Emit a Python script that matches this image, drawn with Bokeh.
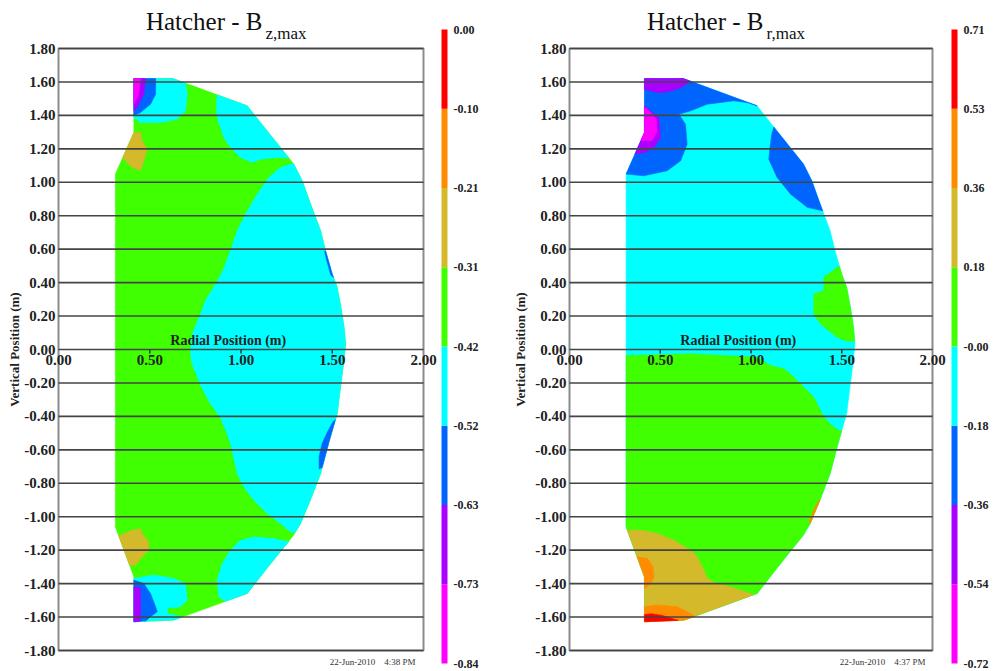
import math
from bokeh.plotting import figure
from bokeh.models import Range1d
from bokeh.core.properties import value
from bokeh.embed import file_html
from bokeh.resources import INLINE

# ---------------- data ----------------
Y_TICKS = [-1.8, -1.6, -1.4, -1.2, -1.0, -0.8, -0.6, -0.4, -0.2, 0.0,
           0.2, 0.4, 0.6, 0.8, 1.0, 1.2, 1.4, 1.6, 1.8]
X_TICKS = [0.0, 0.5, 1.0, 1.5, 2.0]

BAND_COLORS = ["#ff00ff", "#aa00ff", "#0064ff", "#00ffff",
               "#40ff00", "#d4b92a", "#ff8c00", "#ff0000"]
MAGENTA, PURPLE, BLUE, CYAN, GREEN, GOLD, ORANGE, RED = BAND_COLORS

BZ_LEVELS = [-0.84, -0.735, -0.63, -0.525, -0.42, -0.315, -0.21, -0.105, 0.0]
BZ_LABELS = ["-0.84", "-0.73", "-0.63", "-0.52", "-0.42", "-0.31", "-0.21", "-0.10", "0.00"]
BR_LEVELS = [-0.72, -0.54125, -0.3625, -0.18375, -0.005, 0.17375, 0.3525, 0.53125, 0.71]
BR_LABELS = ["-0.72", "-0.54", "-0.36", "-0.18", "-0.00", "0.18", "0.36", "0.53", "0.71"]

# vessel outline (radial r, vertical z)
WALL = [(0.413, 1.620), (0.627, 1.620), (1.034, 1.457), (1.060, 1.420), (1.143, 1.307),
        (1.216, 1.208), (1.289, 1.109), (1.335, 1.009), (1.381, 0.870), (1.436, 0.710),
        (1.463, 0.591), (1.500, 0.450), (1.527, 0.372), (1.548, 0.250), (1.565, 0.130),
        (1.573, 0.034), (1.560, -0.100), (1.545, -0.225), (1.527, -0.384), (1.480, -0.560),
        (1.436, -0.742), (1.380, -0.900), (1.326, -1.041), (1.289, -1.109), (1.216, -1.208),
        (1.143, -1.307), (1.034, -1.459), (0.632, -1.618), (0.413, -1.628), (0.413, -1.359),
        (0.312, -1.061), (0.312, 1.049), (0.413, 1.297)]

# ---- Bz,max contour bands ----
BZ_CYAN_MAIN = [(1.289, 1.109), (1.335, 1.009), (1.381, 0.870), (1.436, 0.710), (1.463, 0.591),
                (1.500, 0.450), (1.527, 0.372), (1.548, 0.250), (1.565, 0.130), (1.573, 0.034),
                (1.560, -0.100), (1.545, -0.225), (1.527, -0.384), (1.480, -0.560), (1.436, -0.742),
                (1.380, -0.900), (1.326, -1.041), (1.296, -1.095), (1.271, -1.091), (1.216, -1.041),
                (1.143, -0.981), (1.070, -0.901), (1.020, -0.830), (0.979, -0.742), (0.960, -0.650),
                (0.942, -0.563), (0.915, -0.480), (0.885, -0.404), (0.830, -0.320), (0.790, -0.240),
                (0.760, -0.165), (0.730, -0.080), (0.723, -0.006), (0.733, 0.094), (0.778, 0.213),
                (0.805, 0.293), (0.851, 0.372), (0.900, 0.470), (0.942, 0.591), (0.979, 0.710),
                (1.025, 0.810), (1.089, 0.929), (1.152, 1.029), (1.216, 1.088), (1.271, 1.109)]
BZ_CYAN_TOP = [(0.870, 1.522), (1.034, 1.457), (1.060, 1.420), (1.143, 1.307), (1.216, 1.208),
               (1.262, 1.145), (1.198, 1.148), (1.107, 1.138), (1.061, 1.118), (0.997, 1.148),
               (0.942, 1.208), (0.906, 1.267), (0.890, 1.320), (0.869, 1.387), (0.865, 1.460)]
BZ_CYAN_TOPLEFT = [(0.413, 1.620), (0.627, 1.620), (0.696, 1.592), (0.705, 1.527), (0.696, 1.427),
                   (0.650, 1.377), (0.559, 1.357), (0.449, 1.357), (0.413, 1.387)]
BZ_BLUE_TOPLEFT = [(0.413, 1.620), (0.532, 1.620), (0.532, 1.527), (0.504, 1.467), (0.449, 1.417),
                   (0.413, 1.399)]
BZ_PURPLE_TOPLEFT = [(0.413, 1.620), (0.477, 1.620), (0.467, 1.527), (0.431, 1.447), (0.413, 1.427)]
BZ_MAGENTA_TOPLEFT = [(0.413, 1.620), (0.449, 1.620), (0.440, 1.527), (0.413, 1.467)]
BZ_GOLD_TOP = [(0.413, 1.297), (0.449, 1.297), (0.458, 1.248), (0.486, 1.198), (0.467, 1.128),
               (0.449, 1.069), (0.404, 1.088), (0.352, 1.148)]
BZ_GOLD_BOT = [(0.330, -1.115), (0.404, -1.081), (0.449, -1.071), (0.458, -1.100), (0.495, -1.150),
               (0.495, -1.200), (0.449, -1.250), (0.422, -1.290), (0.390, -1.290), (0.376, -1.250)]
BZ_CYAN_BOT = [(1.262, -1.150), (1.216, -1.208), (1.143, -1.307), (1.034, -1.459), (0.915, -1.506),
               (0.878, -1.479), (0.869, -1.379), (0.897, -1.280), (0.942, -1.200), (0.997, -1.141),
               (1.070, -1.121), (1.180, -1.130)]
BZ_CYAN_BOTLEFT = [(0.413, -1.369), (0.522, -1.349), (0.632, -1.369), (0.696, -1.399), (0.705, -1.499),
                   (0.668, -1.538), (0.596, -1.548), (0.596, -1.578), (0.680, -1.599), (0.632, -1.618),
                   (0.413, -1.628)]
BZ_BLUE_BOTLEFT = [(0.413, -1.379), (0.467, -1.399), (0.504, -1.459), (0.532, -1.538), (0.541, -1.568),
                   (0.504, -1.598), (0.480, -1.622), (0.413, -1.628)]
BZ_PURPLE_BOTLEFT = [(0.413, -1.419), (0.449, -1.429), (0.449, -1.600), (0.445, -1.626), (0.413, -1.628)]
BZ_BLUE_EDGE_UP = [(1.463, 0.591), (1.500, 0.450), (1.507, 0.430), (1.492, 0.445), (1.470, 0.530),
                   (1.458, 0.585)]
BZ_BLUE_EDGE_DN = [(1.517, -0.420), (1.480, -0.560), (1.445, -0.705), (1.428, -0.715), (1.428, -0.640),
                   (1.445, -0.560), (1.475, -0.490), (1.505, -0.430)]

BZ_BANDS = [(GREEN, WALL), (CYAN, BZ_CYAN_MAIN), (CYAN, BZ_CYAN_TOP), (CYAN, BZ_CYAN_TOPLEFT),
            (BLUE, BZ_BLUE_TOPLEFT), (PURPLE, BZ_PURPLE_TOPLEFT), (MAGENTA, BZ_MAGENTA_TOPLEFT),
            (GOLD, BZ_GOLD_TOP), (GOLD, BZ_GOLD_BOT), (CYAN, BZ_CYAN_BOT), (CYAN, BZ_CYAN_BOTLEFT),
            (BLUE, BZ_BLUE_BOTLEFT), (PURPLE, BZ_PURPLE_BOTLEFT), (BLUE, BZ_BLUE_EDGE_UP),
            (BLUE, BZ_BLUE_EDGE_DN)]

# ---- Br,max contour bands ----
BR_GREEN_LOW = [(0.312, -0.036), (0.667, -0.026), (1.034, -0.046), (1.107, -0.096), (1.181, -0.115),
                (1.236, -0.165), (1.291, -0.225), (1.346, -0.285), (1.401, -0.404), (1.440, -0.450),
                (1.484, -0.484), (1.500, -0.484), (1.480, -0.560), (1.436, -0.742), (1.380, -0.900),
                (1.326, -1.041), (1.289, -1.109), (1.216, -1.208), (1.143, -1.307), (1.034, -1.459),
                (0.632, -1.618), (0.413, -1.628), (0.413, -1.359), (0.312, -1.061)]
BR_GREEN_EDGE = [(1.487, 0.500), (1.401, 0.432), (1.401, 0.352), (1.346, 0.333), (1.346, 0.213),
                 (1.383, 0.153), (1.475, 0.073), (1.530, 0.050), (1.571, 0.050), (1.565, 0.130),
                 (1.548, 0.250), (1.527, 0.372), (1.500, 0.450)]
BR_GOLD_BOT = [(0.319, -1.081), (0.391, -1.081), (0.483, -1.100), (0.575, -1.140), (0.667, -1.200),
               (0.704, -1.240), (0.740, -1.319), (0.759, -1.369), (0.800, -1.395), (0.887, -1.419),
               (1.015, -1.466), (0.632, -1.618), (0.413, -1.628), (0.413, -1.359)]
BR_ORANGE_LEFT = [(0.373, -1.240), (0.430, -1.250), (0.460, -1.300), (0.465, -1.360), (0.450, -1.400),
                  (0.413, -1.430), (0.413, -1.359)]
BR_ORANGE_BOT = [(0.413, -1.538), (0.483, -1.528), (0.593, -1.538), (0.667, -1.578), (0.690, -1.596),
                 (0.632, -1.618), (0.413, -1.628)]
BR_RED_BOT = [(0.413, -1.585), (0.450, -1.580), (0.510, -1.590), (0.575, -1.612), (0.600, -1.620),
              (0.413, -1.628)]
BR_ORANGE_EDGE = [(1.380, -0.900), (1.326, -1.041), (1.320, -1.030), (1.345, -0.960), (1.372, -0.905)]
BR_BLUE_TOP = [(0.413, 1.620), (0.627, 1.620), (1.034, 1.457), (0.979, 1.477), (0.905, 1.487),
               (0.759, 1.467), (0.667, 1.427), (0.602, 1.407), (0.639, 1.347), (0.648, 1.228),
               (0.612, 1.128), (0.538, 1.069), (0.409, 1.039), (0.312, 1.049), (0.413, 1.297)]
BR_PURPLE_TOP = [(0.413, 1.620), (0.627, 1.620), (0.667, 1.604), (0.612, 1.566), (0.556, 1.546),
                 (0.501, 1.536), (0.446, 1.546), (0.413, 1.556)]
BR_PURPLE_LEFT = [(0.413, 1.457), (0.456, 1.417), (0.492, 1.387), (0.501, 1.268), (0.465, 1.208),
                  (0.420, 1.180), (0.361, 1.170), (0.413, 1.297)]
BR_MAGENTA_LEFT = [(0.413, 1.450), (0.445, 1.420), (0.478, 1.380), (0.483, 1.300), (0.455, 1.250),
                   (0.394, 1.250), (0.413, 1.297)]
BR_BLUE_RIGHT = [(1.126, 1.330), (1.143, 1.307), (1.216, 1.208), (1.289, 1.109), (1.335, 1.009),
                 (1.381, 0.870), (1.395, 0.830), (1.310, 0.850), (1.218, 0.929), (1.144, 1.029),
                 (1.098, 1.138), (1.107, 1.228), (1.115, 1.290)]

BR_BANDS = [(CYAN, WALL), (GREEN, BR_GREEN_LOW), (GREEN, BR_GREEN_EDGE), (GOLD, BR_GOLD_BOT),
            (ORANGE, BR_ORANGE_LEFT), (ORANGE, BR_ORANGE_BOT), (RED, BR_RED_BOT),
            (ORANGE, BR_ORANGE_EDGE), (BLUE, BR_BLUE_TOP), (PURPLE, BR_PURPLE_TOP),
            (PURPLE, BR_PURPLE_LEFT), (MAGENTA, BR_MAGENTA_LEFT), (BLUE, BR_BLUE_RIGHT)]

TITLES = [("Hatcher - B", "z,max"), ("Hatcher - B", "r,max")]
NBSP4 = "\u00a0\u00a0\u00a0\u00a0"
STAMPS = ["22-Jun-2010" + NBSP4 + "4:38 PM", "22-Jun-2010" + NBSP4 + "4:37 PM"]
X_TITLE = "Radial Position (m)"
Y_TITLE = "Vertical Position (m)"

# ---------------- layout (pixels inside the canvas) ----------------
CANVAS_W, CANVAS_H = 995, 671
FRAME_TOP, FRAME_BOTTOM = 48, 650
LEFT_FRAME = (58, 423)
RIGHT_FRAME = (569, 932)
LEFT_BAR = (441, 447)
RIGHT_BAR = (951, 957)
BAR_TOP, BAR_BOTTOM = 29, 663

SERIF = "Liberation Serif"
INK = "#222222"


def x_range_for(px_left, px_right, v_left, v_right):
    s = (v_right - v_left) / (px_right - px_left)
    return Range1d(v_left - px_left * s, v_left + (CANVAS_W - px_left) * s)


def y_range_for(px_top, px_bottom, v_top, v_bottom):
    s = (v_top - v_bottom) / (px_bottom - px_top)
    return Range1d(v_bottom - (CANVAS_H - px_bottom) * s, v_top + px_top * s)


p = figure(width=CANVAS_W, height=CANVAS_H, x_range=Range1d(0, 1), y_range=Range1d(0, 1),
           output_backend="svg", toolbar_location=None,
           x_axis_location=None, y_axis_location=None,
           min_border=0, min_border_left=0, min_border_right=0,
           min_border_top=0, min_border_bottom=0)
p.outline_line_color = None
p.grid.visible = False
p.background_fill_color = "white"
p.border_fill_color = "white"

p.extra_x_ranges = {
    "bz": x_range_for(LEFT_FRAME[0], LEFT_FRAME[1], X_TICKS[0], X_TICKS[-1]),
    "br": x_range_for(RIGHT_FRAME[0], RIGHT_FRAME[1], X_TICKS[0], X_TICKS[-1]),
    "cb1": x_range_for(LEFT_BAR[0], LEFT_BAR[1], 0, 1),
    "cb2": x_range_for(RIGHT_BAR[0], RIGHT_BAR[1], 0, 1),
}
p.extra_y_ranges = {
    "z": y_range_for(FRAME_TOP, FRAME_BOTTOM, Y_TICKS[-1], Y_TICKS[0]),
    "cbz": y_range_for(BAR_TOP, BAR_BOTTOM, BZ_LEVELS[-1], BZ_LEVELS[0]),
    "cbr": y_range_for(BAR_TOP, BAR_BOTTOM, BR_LEVELS[-1], BR_LEVELS[0]),
}
Z_PER_PX = (Y_TICKS[-1] - Y_TICKS[0]) / (FRAME_BOTTOM - FRAME_TOP)


def txt(xr, yr, x, y, text, size, align="left", baseline="middle", bold=True,
        xo=0, yo=0, color=INK, angle=0.0):
    n = len(text)
    p.text(x=x, y=y, text=text, x_range_name=xr, y_range_name=yr,
           text_font=value(SERIF), text_font_style="bold" if bold else "normal",
           text_font_size=size, text_align=align, text_baseline=baseline,
           x_offset=xo, y_offset=yo, text_color=color, angle=[angle] * n)


def contour_panel(xr, bands, title, sub, stamp, frame, title_right_px, ytitle_gap_px, stamp_px):
    x_per_px = (X_TICKS[-1] - X_TICKS[0]) / (frame[1] - frame[0])
    p.patches(xs=[[pt[0] for pt in poly] for _, poly in bands],
              ys=[[pt[1] for pt in poly] for _, poly in bands],
              fill_color=[c for c, _ in bands], line_color=[c for c, _ in bands],
              line_width=0.6, x_range_name=xr, y_range_name="z")
    # frame border
    p.quad(left=X_TICKS[0], right=X_TICKS[-1], bottom=Y_TICKS[0], top=Y_TICKS[-1],
           fill_color=None, line_color="#8c8c8c", line_width=2,
           x_range_name=xr, y_range_name="z")
    # horizontal grid lines
    n = len(Y_TICKS)
    p.segment(x0=[X_TICKS[0]] * n, x1=[X_TICKS[-1]] * n, y0=Y_TICKS, y1=Y_TICKS,
              line_color="#444444", line_width=1.6, x_range_name=xr, y_range_name="z")
    # x ticks along z = 0
    inner = X_TICKS[1:-1]
    p.segment(x0=inner, x1=inner, y0=[0.0] * len(inner), y1=[-4 * Z_PER_PX] * len(inner),
              line_color="#333333", line_width=1.5, x_range_name=xr, y_range_name="z")
    # tick labels
    txt(xr, "z", [X_TICKS[0]] * n, Y_TICKS, [f"{v:.2f}" for v in Y_TICKS], "15px",
        align="right", xo=-3)
    txt(xr, "z", X_TICKS, [0.0] * len(X_TICKS), [f"{v:.2f}" for v in X_TICKS], "15px",
        align="center", baseline="top", yo=5)
    # axis titles
    txt(xr, "z", [X_TICKS[0] + 0.465 * (X_TICKS[-1] - X_TICKS[0])], [9 * Z_PER_PX], [X_TITLE],
        "14px", align="center")
    txt(xr, "z", [X_TICKS[0] - ytitle_gap_px * x_per_px], [0.0], [Y_TITLE], "13px",
        align="center", angle=math.pi / 2)
    # title with subscript
    tx = X_TICKS[0] + title_right_px * x_per_px
    txt(xr, "z", [tx], [Y_TICKS[-1] + 27 * Z_PER_PX], [title], "25px",
        align="right", baseline="middle", bold=False, color="#111111")
    txt(xr, "z", [tx], [Y_TICKS[-1] + 15 * Z_PER_PX], [sub], "17px",
        align="left", baseline="middle", bold=False, color="#111111", xo=3)
    # time stamp
    txt(xr, "z", [X_TICKS[-1]], [Y_TICKS[0]], [stamp], "9px", align="right",
        bold=False, xo=-stamp_px, yo=11, color="#333333")


def color_bar(xr, yr, levels, labels):
    m = len(levels) - 1
    p.quad(left=[0] * m, right=[1] * m, bottom=levels[:-1], top=levels[1:],
           fill_color=BAND_COLORS, line_color=None, x_range_name=xr, y_range_name=yr)
    txt(xr, yr, [1] * len(levels), levels, labels, "12px", align="left", xo=6)


contour_panel("bz", BZ_BANDS, TITLES[0][0], TITLES[0][1], STAMPS[0], LEFT_FRAME, 204, 44, 8)
color_bar("cb1", "cbz", BZ_LEVELS, BZ_LABELS)
contour_panel("br", BR_BANDS, TITLES[1][0], TITLES[1][1], STAMPS[1], RIGHT_FRAME, 194, 49, 7)
color_bar("cb2", "cbr", BR_LEVELS, BR_LABELS)

open("out.html", "w").write(file_html(p, INLINE))
